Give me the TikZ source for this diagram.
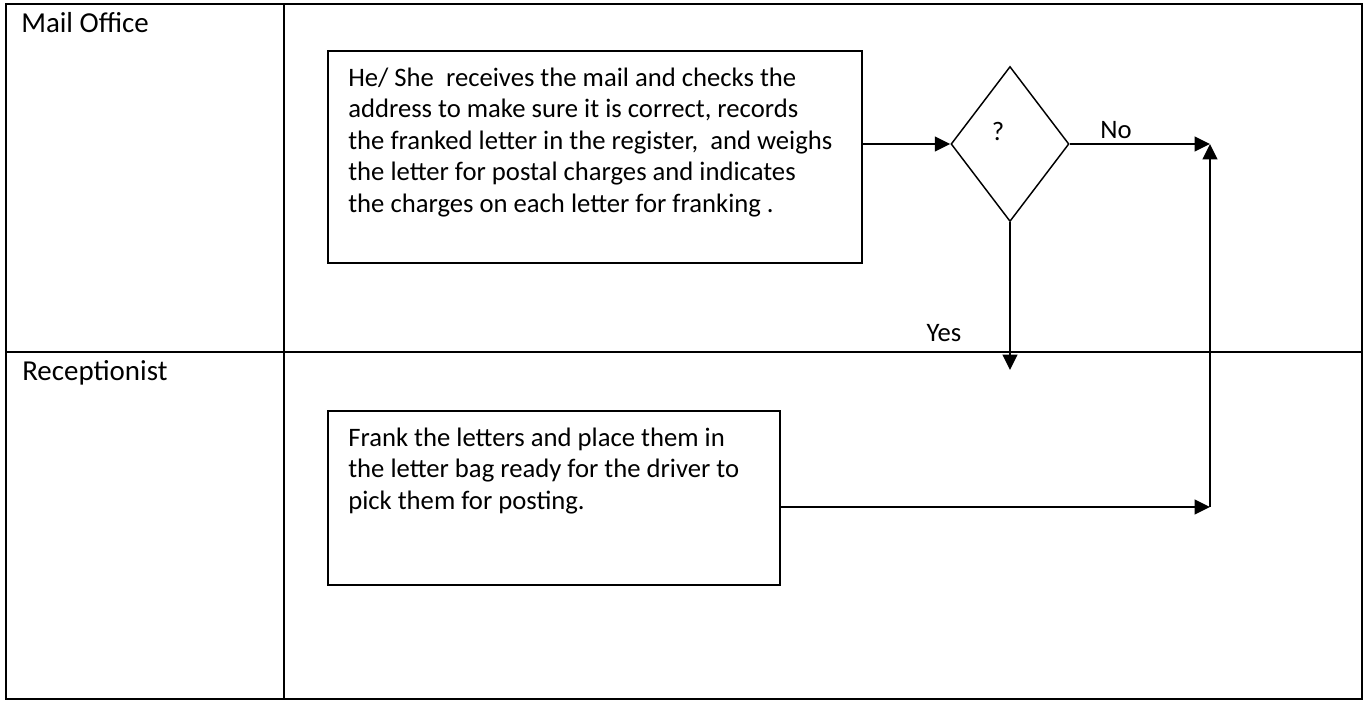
\documentclass[tikz,border=0pt]{standalone}
\usepackage{fontspec}
\setmainfont{Carlito}
\usetikzlibrary{arrows.meta,shapes.geometric}
\newlength\px
\setlength\px{0.75pt}
\begin{document}
\begin{tikzpicture}[x=0.75pt,y=-0.75pt,
  lane/.style={line width=1.6pt},
  lanetxt/.style={font=\fontsize{21.7}{26}\selectfont, inner sep=0pt, anchor=base west},
  procbox/.style={draw, line width=1.3pt, inner sep=0pt},
  txt/.style={font=\fontsize{20}{23.6}\selectfont, inner sep=0pt, align=left, anchor=base west},
  lbl/.style={font=\fontsize{20}{23.6}\selectfont, inner sep=0pt, anchor=center},
  arr/.style={line width=1.4pt, -{Triangle[length=11.5pt,width=11pt]}},
  dec/.style={draw, shape=diamond, line width=1.1pt, inner sep=0pt, minimum width=118\px, minimum height=155\px}]
\useasboundingbox (0,0) rectangle (1365,703);
% swimlane table
\draw[lane] (6,4) rectangle (1362,699);
\draw[lane] (284,4) -- (284,699);
\draw[lane] (6,352) -- (1362,352);
\node[lanetxt] (l1) at (21,32) {Mail Office};
\node[lanetxt] (l2) at (22,380) {Receptionist};
% process boxes (node base = baseline of the last line)
\node[procbox, minimum width=534\px, minimum height=212\px] (b1) at (595,157) {};
\node[txt] (t1) at (348,212) {He/ She\ \ receives the mail and checks the\\address to make sure it is correct, records\\the franked letter in the register,\ \ and weighs\\the letter for postal charges and indicates\\the charges on each letter for franking .};
\node[procbox, minimum width=452\px, minimum height=174\px] (b2) at (554,498) {};
\node[txt] (t2) at (348,509) {Frank the letters and place them in\\the letter bag ready for the driver to\\pick them for posting.};
% decision
\node[dec] (d) at (1010,144) {};
\node[lbl] (q) at (998,131) {?};
\node[lbl] (no) at (1116,130) {No};
\node[lbl] (yes) at (944,333) {Yes};
% connector ends
\coordinate (nx) at (1210,141);
\coordinate (ye) at (1008,370);
\coordinate (rx) at (1210,507);
\coordinate (up) at (1210,144);
\draw[arr] (b1.east |- d.west) -- (d.west);
\draw[arr] (d.east) -- (d.east -| nx);
\draw[arr] (d.south) -- (d.south |- ye);
\draw[arr] (b2.east |- rx) -- (rx);
\draw[arr] (rx) -- (up);
\end{tikzpicture}
\end{document}
